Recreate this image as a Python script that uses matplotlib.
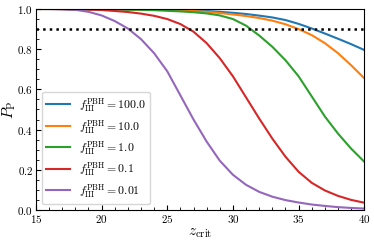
import matplotlib
matplotlib.use("Agg")
import matplotlib.pyplot as plt
from matplotlib.ticker import AutoMinorLocator

plt.rcParams['font.family'] = 'serif'
plt.rcParams['font.serif'] = ['cmr10', 'DejaVu Serif']
plt.rcParams['mathtext.fontset'] = 'cm'
plt.rcParams['axes.formatter.use_mathtext'] = True

z = list(range(15, 41))

p_100 = [1.0, 1.0, 1.0, 0.999, 0.999, 0.999, 0.999, 0.998, 0.998, 0.997,
         0.997, 0.995, 0.993, 0.99, 0.986, 0.981, 0.975, 0.967, 0.958, 0.945,
         0.926, 0.903, 0.878, 0.852, 0.825, 0.796]
p_10 = [1.0, 1.0, 1.0, 0.999, 0.999, 0.999, 0.998, 0.998, 0.997, 0.997,
        0.995, 0.993, 0.99, 0.986, 0.98, 0.973, 0.965, 0.955, 0.942, 0.924,
        0.9, 0.87, 0.83, 0.78, 0.72, 0.655]
p_1 = [1.0, 1.0, 1.0, 0.999, 0.999, 0.998, 0.998, 0.997, 0.996, 0.994,
       0.991, 0.988, 0.984, 0.978, 0.968, 0.95, 0.917, 0.868, 0.812, 0.745,
       0.665, 0.565, 0.465, 0.38, 0.305, 0.24]
p_01 = [1.0, 1.0, 0.999, 0.998, 0.997, 0.995, 0.99, 0.985, 0.977, 0.966,
        0.95, 0.925, 0.887, 0.83, 0.755, 0.665, 0.56, 0.455, 0.355, 0.265,
        0.19, 0.135, 0.097, 0.07, 0.05, 0.036]
p_001 = [1.0, 1.0, 0.999, 0.996, 0.986, 0.968, 0.94, 0.903, 0.85, 0.78,
         0.69, 0.57, 0.45, 0.34, 0.245, 0.175, 0.125, 0.09, 0.066, 0.049,
         0.037, 0.027, 0.02, 0.014, 0.01, 0.007]

series = [p_100, p_10, p_1, p_01, p_001]
labels = ['100.0', '10.0', '1.0', '0.1', '0.01']
threshold = 0.9

fig = plt.figure(figsize=(3.74, 2.43), dpi=100)
ax = fig.add_axes([0.096, 0.136, 0.878, 0.827])

for vals, lab in zip(series, labels):
    ax.plot(z, vals, lw=1.5, label=r'$f_{\rm III}^{\rm PBH} = ' + lab + '$')

ax.axhline(threshold, color='black', ls=':', lw=1.8)

ax.set_xlim(15, 40)
ax.set_ylim(0, 1)
ax.set_xticks([15, 20, 25, 30, 35, 40])
ax.set_yticks([0.0, 0.2, 0.4, 0.6, 0.8, 1.0])
ax.xaxis.set_minor_locator(AutoMinorLocator())
ax.yaxis.set_minor_locator(AutoMinorLocator())
ax.tick_params(which='both', direction='in', labelsize=8, pad=2)
ax.tick_params(which='major', length=3.5)
ax.tick_params(which='minor', length=2)

ax.set_xlabel(r'$z_{\rm crit}$', fontsize=11, labelpad=1)
ax.set_ylabel(r'$P_{\rm P}$', fontsize=11)
ax.yaxis.set_label_coords(-0.056, 0.5)

ax.legend(loc='lower left', fontsize=8.5, frameon=True, borderaxespad=0.5,
          labelspacing=0.3, borderpad=0.35)

fig.savefig('out.png', dpi=100)
